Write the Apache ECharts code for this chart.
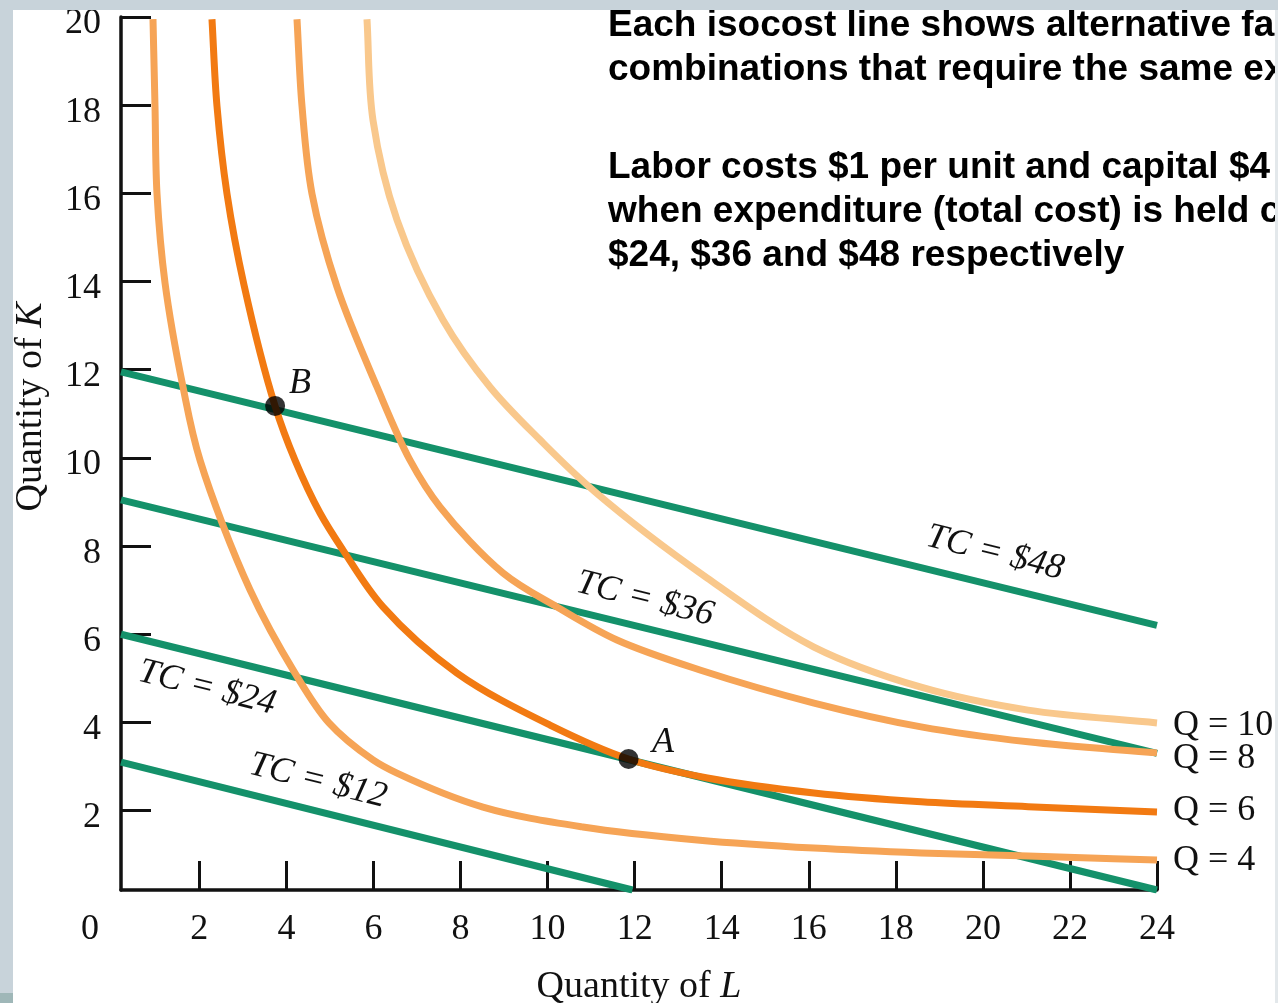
<!DOCTYPE html>
<html><head><meta charset="utf-8">
<script src="https://cdn.jsdelivr.net/npm/echarts@6/dist/echarts.min.js"></script>
<style>html,body{margin:0;padding:0;background:#fff;overflow:hidden}#c{width:1278px;height:1003px}</style>
</head><body><div id="c"></div>
<script>
// ---- data ----
const xTicks = [2, 4, 6, 8, 10, 12, 14, 16, 18, 20, 22, 24];
const yTicks = [2, 4, 6, 8, 10, 12, 14, 16, 18, 20];

// isocost lines (L, K)
const tc12 = [[0.2, 3.1], [11.95, 0.2]];
const tc24 = [[0.2, 6.0], [24, 0.2]];
const tc36 = [[0.2, 9.05], [24, 3.3]];
const tc48 = [[0.2, 11.95], [24, 6.2]];

// isoquants (L, K)
const q4 = [[0.935, 19.95], [0.981, 17.98], [1.027, 15.99], [1.211, 13.97], [1.624, 11.61], [2.015, 9.95], [3.163, 7.01], [4.197, 5.12], [4.978, 3.99], [5.989, 3.15], [6.54, 2.85], [8.516, 2.08], [10.81, 1.63], [13.5, 1.33], [16.12, 1.15], [18.58, 1.04], [21.04, 0.97], [24, 0.88]];
const q6 = [[2.29, 19.95], [2.405, 17.98], [2.635, 15.99], [3.026, 13.92], [3.738, 11.18], [4.197, 9.95], [4.772, 8.75], [5.3, 7.91], [6.219, 6.62], [7.919, 5.12], [10.055, 3.94], [11.859, 3.17], [13.67, 2.74], [16.12, 2.4], [18.58, 2.2], [21.04, 2.09], [24, 1.97]];
const q8 = [[4.243, 19.95], [4.358, 17.98], [4.588, 15.99], [5.162, 13.88], [6.081, 11.61], [6.839, 9.95], [7.528, 8.89], [8.976, 7.39], [10.216, 6.62], [11.594, 5.87], [13.5, 5.19], [16.12, 4.44], [18.58, 3.9], [21.04, 3.56], [24, 3.31]];
const q10 = [[5.851, 19.95], [5.989, 17.66], [6.54, 15.4], [7.597, 13.13], [8.677, 11.61], [9.826, 10.41], [11.09, 9.23], [13.66, 7.28], [16.12, 5.71], [18.58, 4.8], [21.04, 4.28], [24, 3.99]];

const pointNames = ['A', 'B'];
const pointValues = [[11.86, 3.17], [3.74, 11.18]];

const tcLabels = ['TC = $12', 'TC = $24', 'TC = $36', 'TC = $48'];
const qLabels = ['Q = 4', 'Q = 6', 'Q = 8', 'Q = 10'];
const noteLines = [
  'Each isocost line shows alternative fa',
  'combinations that require the same ex',
  'Labor costs $1 per unit and capital $4',
  'when expenditure (total cost) is held c',
  '$24, $36 and $48 respectively'
];

// ---- styles ----
const SERIF = 'Liberation Serif';
const GREEN = '#14916a';
const qColors = ['#f6a456', '#f27a12', '#f6a456', '#f9c88c'];
const qLabelDy = [1, -1, 6, 3];

const chart = echarts.init(document.getElementById('c'), null, {renderer: 'canvas'});

function isocost(data, name) {
  return {type: 'line', name: name, data: data, showSymbol: false, symbol: 'none', z: 2,
    lineStyle: {color: GREEN, width: 7}, silent: true, animation: false};
}

// centripetal Catmull-Rom through the read points (pixel space)
function crPath(pts) {
  const n = pts.length;
  const P = (i) => {
    if (i < 0) return [2 * pts[0][0] - pts[1][0], 2 * pts[0][1] - pts[1][1]];
    if (i >= n) return [2 * pts[n - 1][0] - pts[n - 2][0], 2 * pts[n - 1][1] - pts[n - 2][1]];
    return pts[i];
  };
  const dpow = (a, b) => Math.pow(Math.hypot(b[0] - a[0], b[1] - a[1]), 0.5);
  let d = 'M' + pts[0][0].toFixed(2) + ' ' + pts[0][1].toFixed(2);
  for (let i = 0; i < n - 1; i++) {
    const p0 = P(i - 1), p1 = P(i), p2 = P(i + 1), p3 = P(i + 2);
    const d1 = dpow(p0, p1), d2 = dpow(p1, p2), d3 = dpow(p2, p3);
    const A = 2 * d1 * d1 + 3 * d1 * d2 + d2 * d2, N = 3 * d1 * (d1 + d2);
    const B = 2 * d3 * d3 + 3 * d3 * d2 + d2 * d2, M = 3 * d3 * (d3 + d2);
    const c1 = [0, 1].map(k => (d1 * d1 * p2[k] - d2 * d2 * p0[k] + A * p1[k]) / N);
    const c2 = [0, 1].map(k => (d3 * d3 * p1[k] - d2 * d2 * p3[k] + B * p2[k]) / M);
    d += ' C' + c1[0].toFixed(2) + ' ' + c1[1].toFixed(2) + ' ' + c2[0].toFixed(2) + ' ' + c2[1].toFixed(2) + ' ' + p2[0].toFixed(2) + ' ' + p2[1].toFixed(2);
  }
  return d;
}

function isoquant(data, idx) {
  return {type: 'custom', name: qLabels[idx], coordinateSystem: 'cartesian2d', z: 3, silent: true, animation: false,
    clip: false, data: [[data[0][0], data[0][1]]], encode: {x: 0, y: 1},
    renderItem: function (params, api) {
      const pts = data.map(p => api.coord(p));
      const last = pts[pts.length - 1];
      return {type: 'group', children: [
        {type: 'path', shape: {pathData: crPath(pts)}, style: {fill: 'none', stroke: qColors[idx], lineWidth: 7}},
        {type: 'text', x: last[0] + 16, y: last[1] + qLabelDy[idx],
          style: {text: qLabels[idx], font: '36px "Liberation Serif"', fill: '#111', align: 'left', verticalAlign: 'middle'}}
      ]};
    }};
}

const tcLabelPos = [[318, 781], [207, 688], [645, 599], [995, 553]];
const notePosY = [26, 70, 168, 212, 256];
const rot = -14 * Math.PI / 180;

const graphics = [];
tcLabels.forEach((t, i) => graphics.push({type: 'text', x: tcLabelPos[i][0], y: tcLabelPos[i][1], rotation: rot, z: 10,
  style: {text: t, font: 'italic 36px "Liberation Serif"', fill: '#111', align: 'center', verticalAlign: 'middle'}}));
noteLines.forEach((t, i) => graphics.push({type: 'text', x: 608, y: notePosY[i], z: 10,
  style: {text: t, font: 'bold 37px "Liberation Sans"', fill: '#000', align: 'left', verticalAlign: 'middle'}}));
graphics.push({type: 'text', x: 90, y: 930, z: 10, style: {text: '0', font: '36px "Liberation Serif"', fill: '#111', align: 'center', verticalAlign: 'middle'}});
graphics.push({type: 'text', x: 663, y: 743, z: 10, style: {text: pointNames[0], font: 'italic 36px "Liberation Serif"', fill: '#111', align: 'center', verticalAlign: 'middle'}});
graphics.push({type: 'text', x: 300, y: 384, z: 10, style: {text: pointNames[1], font: 'italic 36px "Liberation Serif"', fill: '#111', align: 'center', verticalAlign: 'middle'}});
// y-axis name
graphics.push({type: 'text', x: 31, y: 407, rotation: Math.PI / 2, z: 10,
  style: {text: '{a|Quantity of }{b|K}', align: 'center', verticalAlign: 'middle',
    rich: {a: {fontFamily: SERIF, fontSize: 38, fill: '#111'}, b: {fontFamily: SERIF, fontSize: 38, fontStyle: 'italic', fill: '#111'}}}});
// frame strips
graphics.push({type: 'rect', shape: {x: 0, y: 0, width: 1278, height: 10}, z: 20, style: {fill: '#c8d3da'}});
graphics.push({type: 'rect', shape: {x: 0, y: 0, width: 13, height: 1003}, z: 20, style: {fill: '#c8d3da'}});
graphics.push({type: 'rect', shape: {x: 0, y: 993, width: 13, height: 10}, z: 21, style: {fill: '#9fb7b8'}});
graphics.push({type: 'rect', shape: {x: 1275, y: 10, width: 3, height: 993}, z: 20, style: {fill: '#e3e8eb'}});

const option = {
  backgroundColor: '#ffffff',
  animation: false,
  grid: {left: 121, right: 121, top: 17, bottom: 113, containLabel: false, outerBoundsMode: 'none'},
  xAxis: {
    type: 'value', min: 0.2, max: 24,
    axisLine: {show: true, onZero: false, lineStyle: {color: '#111', width: 3.5}},
    axisTick: {show: true, inside: true, length: 29, lineStyle: {color: '#111', width: 3}, customValues: xTicks},
    axisLabel: {show: true, customValues: xTicks, fontFamily: SERIF, fontSize: 36, color: '#111', margin: 22},
    splitLine: {show: false},
    name: '{a|Quantity of }{b|L}', nameLocation: 'middle', nameGap: 78,
    nameTextStyle: {rich: {a: {fontFamily: SERIF, fontSize: 38, color: '#111'}, b: {fontFamily: SERIF, fontSize: 38, fontStyle: 'italic', color: '#111'}}}
  },
  yAxis: {
    type: 'value', min: 0.2, max: 20,
    axisLine: {show: true, onZero: false, lineStyle: {color: '#111', width: 3.5}},
    axisTick: {show: true, inside: true, length: 30, lineStyle: {color: '#111', width: 3}, customValues: yTicks},
    axisLabel: {show: true, customValues: yTicks, fontFamily: SERIF, fontSize: 36, color: '#111', margin: 20,
      verticalAlign: 'top', lineHeight: 14},
    splitLine: {show: false}
  },
  series: [
    isocost(tc12, tcLabels[0]), isocost(tc24, tcLabels[1]), isocost(tc36, tcLabels[2]), isocost(tc48, tcLabels[3]),
    isoquant(q4, 0), isoquant(q6, 1), isoquant(q8, 2), isoquant(q10, 3),
    {type: 'scatter', data: pointValues.map((v, i) => ({name: pointNames[i], value: v})), symbolSize: 20, z: 5,
      itemStyle: {color: '#000'}, silent: true}
  ],
  graphic: graphics
};
chart.setOption(option);
</script>
</body></html>
